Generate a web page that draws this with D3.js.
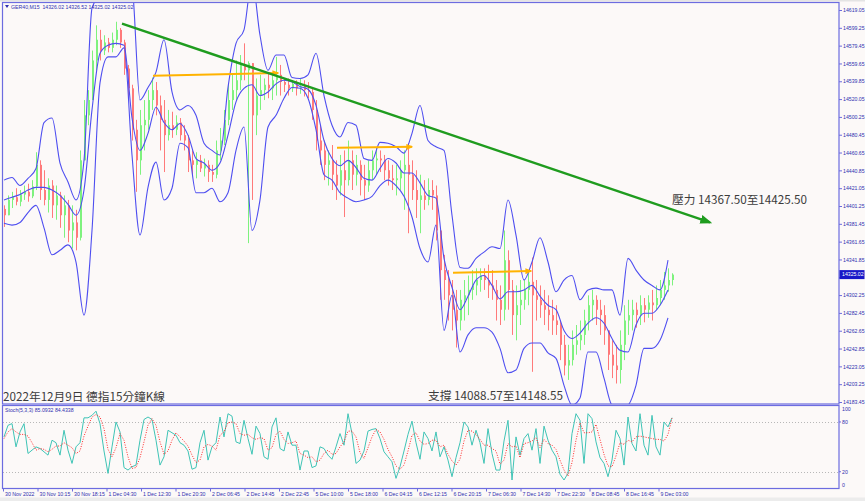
<!DOCTYPE html>
<html><head><meta charset="utf-8">
<script src="https://cdn.jsdelivr.net/npm/d3@7"></script>
<style>
html,body{margin:0;padding:0;background:#fcf9f8;}
svg{display:block;}
</style></head><body>
<svg id="c" width="865" height="501"></svg>
<script>
// ---------------- DATA ----------------
// aggregated candles (about one hour each), prices
const firstOpen = 14398;
const highs = [
14402,14413,14417,14421,14419,14424,14426,14430,14461,14452,
14441,14432,14430,14424,14417,14413,14408,14402,14397,14463,
14519,14530,14574,14602,14597,14591,14588,14594,14606,14599,
14586,14558,14536,14497,14508,14519,14530,14544,14539,14524,
14519,14508,14506,14502,14499,14491,14480,14463,14461,14458,
14454,14452,14447,14474,14488,14508,14536,14547,14563,14569,
14582,14562,14536,14543,14547,14543,14550,14547,14567,14558,
14543,14543,14541,14541,14543,14541,14539,14532,14519,14491,
14474,14463,14469,14452,14458,14463,14474,14463,14458,14452,
14447,14452,14463,14466,14463,14458,14452,14447,14447,14452,
14463,14471,14452,14441,14436,14430,14432,14430,14424,14374,
14347,14330,14319,14308,14308,14319,14324,14330,14332,14332,
14332,14336,14330,14319,14313,14374,14352,14319,14313,14319,
14319,14330,14344,14319,14313,14308,14302,14297,14291,14274,
14258,14247,14263,14269,14274,14286,14302,14308,14302,14297,
14291,14263,14252,14247,14263,14291,14297,14297,14294,14302,
14299,14302,14308,14313,14319,14328,14332,14326.52];
const lows = [
14378,14394,14399,14402,14401,14408,14406,14410,14419,14408,
14402,14394,14388,14386,14377,14366,14361,14354,14352,14363,
14463,14491,14519,14552,14563,14569,14572,14572,14580,14577,
14547,14519,14474,14417,14436,14463,14486,14508,14502,14463,
14439,14474,14477,14480,14474,14463,14439,14436,14432,14439,
14434,14428,14428,14432,14452,14469,14491,14508,14519,14530,
14541,14360,14408,14480,14508,14519,14521,14519,14524,14524,
14528,14524,14528,14524,14526,14523,14521,14497,14463,14447,
14430,14424,14419,14408,14413,14389,14424,14419,14424,14413,
14408,14417,14430,14436,14439,14430,14424,14419,14413,14419,
14397,14371,14408,14388,14371,14397,14402,14397,14363,14297,
14297,14274,14263,14244,14263,14274,14280,14297,14302,14306,
14308,14299,14297,14274,14269,14274,14286,14258,14252,14269,
14286,14291,14217,14274,14277,14269,14263,14258,14258,14230,
14213,14208,14224,14236,14241,14247,14263,14274,14269,14258,
14247,14219,14210,14204,14204,14230,14258,14263,14266,14269,
14272,14277,14274,14286,14291,14297,14306,14313];
const closes = [
14391,14408,14411,14406,14414,14417,14412,14423,14447,14419,
14408,14424,14402,14413,14391,14402,14374,14383,14366,14452,
14502,14519,14563,14586,14574,14583,14577,14586,14597,14583,
14554,14532,14486,14452,14491,14497,14519,14530,14513,14497,
14480,14491,14486,14494,14480,14474,14452,14447,14452,14443,
14447,14439,14436,14463,14474,14497,14519,14530,14541,14558,
14552,14560,14502,14524,14530,14536,14532,14541,14547,14539,
14536,14532,14537,14532,14534,14530,14528,14508,14474,14463,
14447,14452,14436,14424,14441,14430,14452,14436,14447,14430,
14424,14441,14452,14454,14452,14441,14432,14430,14432,14441,
14447,14436,14419,14408,14413,14408,14419,14413,14374,14330,
14319,14302,14286,14274,14297,14302,14308,14313,14319,14324,
14319,14313,14308,14297,14286,14341,14308,14280,14291,14297,
14308,14317,14302,14297,14291,14286,14280,14274,14269,14247,
14224,14230,14247,14252,14258,14274,14291,14297,14286,14280,
14263,14236,14224,14219,14247,14274,14280,14286,14280,14291,
14286,14294,14291,14299,14308,14313,14319,14325.02];

// band values, one per two candles
const bandUpper = [
14430,14433,14424,14432,14443,14494,14499,14449,14428,14408,
14452,14621,14636,14652,14663,14663,14647,14519,14533,14550,
14586,14528,14508,14513,14502,14471,14463,14458,14533,14582,
14597,14652,14591,14552,14569,14569,14544,14543,14547,14571,
14524,14491,14478,14494,14491,14454,14452,14472,14471,14467,
14460,14482,14513,14474,14467,14463,14391,14333,14332,14343,
14350,14356,14354,14408,14369,14319,14339,14366,14339,14306,
14319,14324,14297,14308,14310,14308,14308,14280,14343,14330,
14319,14313,14308,14341];
const bandMiddle = [
14408,14411,14414,14419,14422,14422,14419,14413,14403,14391,
14419,14508,14571,14580,14582,14580,14499,14463,14482,14511,
14494,14486,14493,14480,14454,14449,14441,14449,14480,14517,
14532,14536,14524,14528,14537,14541,14539,14534,14531,14513,
14474,14454,14446,14452,14444,14432,14430,14443,14454,14449,
14438,14438,14427,14413,14410,14343,14311,14286,14301,14319,
14324,14313,14298,14306,14306,14308,14313,14301,14291,14286,
14263,14254,14260,14271,14277,14271,14254,14241,14239,14269,
14282,14282,14291,14308];
const bandLower = [
14382,14380,14383,14394,14402,14377,14347,14352,14358,14339,
14280,14374,14538,14567,14567,14577,14458,14369,14422,14450,
14408,14421,14471,14466,14416,14416,14421,14406,14416,14463,
14489,14374,14408,14489,14502,14521,14533,14532,14521,14486,
14436,14430,14416,14410,14406,14408,14412,14424,14430,14424,
14412,14389,14354,14339,14380,14263,14302,14239,14258,14266,
14266,14261,14243,14216,14219,14243,14249,14249,14238,14232,
14202,14180,14188,14239,14239,14210,14180,14177,14180,14202,
14243,14243,14252,14277];

// stochastic (5,3,3): main and signal, one per candle
const stochMain = [
62,76,78,50,68,78,42,46,50,48,
44,40,58,55,40,70,46,30,50,55,
85,85,88,93,78,45,18,50,80,68,
25,22,26,28,58,83,86,83,58,28,
38,70,67,64,55,52,45,23,25,55,
70,34,50,55,86,62,90,87,56,54,
82,60,41,75,66,38,35,74,85,48,
45,68,52,52,22,45,45,25,27,50,
48,40,35,50,66,52,90,66,30,34,
45,69,71,72,60,44,38,32,12,26,
45,65,81,55,35,68,60,45,68,38,
50,34,14,37,55,80,74,52,70,55,
30,72,42,22,22,57,82,10,62,40,
60,66,46,72,30,75,58,46,38,17,
10,18,66,90,82,30,90,84,56,37,
30,14,34,70,60,28,86,54,45,90,
52,40,88,50,40,80,74,85.0932];
const stochSignal = [
60,68,72,68,65,65,63,55,46,48,
47,44,47,51,51,55,52,49,42,45,
63,75,86,89,86,72,47,38,49,66,
58,38,24,25,37,56,76,84,76,56,
41,45,58,67,62,57,51,40,31,34,
50,53,51,46,64,68,79,80,78,66,
64,65,61,59,61,60,46,49,65,69,
59,54,55,57,42,40,37,38,32,34,
42,46,41,42,50,56,69,69,62,43,
36,49,62,71,68,59,47,38,27,23,
28,45,64,67,57,53,54,58,58,50,
52,41,33,28,35,57,70,69,65,59,
52,52,48,45,29,34,54,50,51,37,
54,55,57,61,49,59,54,52,47,34,
22,15,31,58,79,67,67,68,77,59,
41,27,26,39,55,53,58,56,62,63,
62,61,60,59,59,57,65,84.4338];

const priceTicks = [14619.05,14599.25,14579.45,14559.65,14539.85,14520.05,14500.25,14480.45,
  14460.65,14440.85,14421.05,14401.25,14381.45,14361.65,14341.85,14322.05,14302.25,14282.45,
  14262.65,14242.85,14223.05,14203.25,14183.45];
const lastPrice = 14325.02;
const stochLevels = [100, 80, 20, 0];
const timeLabels = ["30 Nov 2022","30 Nov 10:15","30 Nov 18:15","1 Dec 04:30","1 Dec 12:30",
  "1 Dec 20:30","2 Dec 06:45","2 Dec 14:45","2 Dec 22:45","5 Dec 10:00","5 Dec 18:00",
  "6 Dec 04:15","6 Dec 12:15","6 Dec 20:15","7 Dec 06:30","7 Dec 14:30","7 Dec 22:30",
  "8 Dec 08:45","8 Dec 16:45","9 Dec 03:00"];
const candlesPerLabel = 8.625; // 32 fifteen-minute bars per label

// drawn annotations: [candle index, price]
const trendLine = [[29.5, 14604], [176.5, 14383]];
const levelLines = [
  [[37.25, 14546], [68.5, 14549]],
  [[83.25, 14466], [102, 14467]],
  [[112.25, 14327], [131.75, 14329]]
];
const headerText = "GER40,M15  14326.02 14326.52 14325.02 14325.02";
const stochText = "Stoch(5,3,3) 85.0932 84.4338";
const notes = ["壓力 14367.50至14425.50", "支撐 14088.57至14148.55", "2022年12月9日 德指15分鐘K線"];

// ---------------- LAYOUT ----------------
const W = 865, H = 501;
const P = {left: 2.5, right: 839, top: 2.5, bottom: 404, sTop: 405.5, sBottom: 488.5};
const BORDER = "#6c6ce0", AXTXT = "#3030b0";
const UP = "#7ef27e", DOWN = "#ff7a7a", BAND = "#4e4ef0";
const smallFont = "'Liberation Sans', Arial, sans-serif";
const cjkFont = "'Noto Sans CJK TC','Noto Sans CJK SC',sans-serif";

const svg = d3.select("#c");
svg.append("rect").attr("width", W).attr("height", H).attr("fill", "#fcf9f8");
svg.append("rect").attr("x", 0).attr("y", 0).attr("width", W).attr("height", 1.5).attr("fill", "#e4e4e4");
svg.append("rect").attr("x", 0).attr("y", 497.5).attr("width", W).attr("height", 3.5).attr("fill", "#ececec");

const n = closes.length;
const x = d3.scaleLinear().domain([0, n - 1]).range([4, 672]);
const y = d3.scaleLinear().domain([14183.45, 14619.05]).range([402, 10]);
const ys = d3.scaleLinear().domain([0, 100]).range([488.3, 405.4]);

const defs = svg.append("defs");
defs.append("clipPath").attr("id", "cm").append("rect")
  .attr("x", 3).attr("y", 3).attr("width", P.right - 3).attr("height", P.bottom - 3);
defs.append("clipPath").attr("id", "cs").append("rect")
  .attr("x", 3).attr("y", P.sTop + 0.5).attr("width", P.right - 3).attr("height", P.sBottom - P.sTop - 1);
function marker(id, color, w, h) {
  defs.append("marker").attr("id", id).attr("viewBox", "0 0 10 10")
    .attr("refX", 8).attr("refY", 5).attr("markerWidth", w).attr("markerHeight", h)
    .attr("markerUnits", "userSpaceOnUse").attr("orient", "auto").attr("preserveAspectRatio", "none")
    .append("path").attr("d", "M0,0 L10,5 L0,10 z").attr("fill", color);
}
marker("ag", "#1f9c1f", 12, 9);
marker("ao", "#ffb300", 7, 6);

// ---------- main panel ----------
const gm = svg.append("g").attr("clip-path", "url(#cm)");
const candles = closes.map((c, i) => {
  const o = i === 0 ? firstOpen : closes[i - 1];
  return {i, o, c, h: Math.max(highs[i], o, c), l: Math.min(lows[i], o, c)};
});
gm.selectAll("rect.w").data(candles).join("rect").attr("class", "w")
  .attr("x", d => Math.round(x(d.i))).attr("width", 1)
  .attr("y", d => y(d.h)).attr("height", d => Math.max(1, y(d.l) - y(d.h)))
  .attr("fill", d => d.c >= d.o ? UP : DOWN);
gm.selectAll("rect.b").data(candles).join("rect").attr("class", "b")
  .attr("x", d => Math.round(x(d.i))).attr("width", 2)
  .attr("y", d => y(Math.max(d.o, d.c))).attr("height", d => Math.max(1, Math.abs(y(d.o) - y(d.c))))
  .attr("fill", d => d.c >= d.o ? UP : DOWN);

const bandLine = d3.line().x((d, j) => x(j * 2)).y(d => y(d)).curve(d3.curveMonotoneX);
[bandUpper, bandMiddle, bandLower].forEach(arr => {
  gm.append("path").attr("d", bandLine(arr)).attr("fill", "none")
    .attr("stroke", BAND).attr("stroke-width", 1.1);
});

const segLine = d3.line().x(d => x(d[0])).y(d => y(d[1]));
levelLines.forEach(seg => {
  gm.append("path").attr("d", segLine(seg)).attr("stroke", "#ffb300").attr("stroke-width", 2)
    .attr("fill", "none").attr("marker-end", "url(#ao)");
});
gm.append("path").attr("d", segLine(trendLine)).attr("stroke", "#1f9c1f").attr("stroke-width", 2.4)
  .attr("fill", "none").attr("marker-end", "url(#ag)");

// notes
const notePos = [[672, 204], [428, 400], [3, 401]];
notes.forEach((t, k) => {
  svg.append("text").attr("x", notePos[k][0]).attr("y", notePos[k][1]).text(t)
    .attr("font-family", cjkFont).attr("font-size", 11.7).attr("fill", "#3c3c3c");
});

// header
svg.append("path").attr("d", "M5,5 L9,5 L7,8 z").attr("fill", AXTXT);
svg.append("text").attr("x", 11).attr("y", 9).text(headerText)
  .attr("font-family", smallFont).attr("font-size", 5.2).attr("fill", AXTXT)
  .style("white-space", "pre");

// ---------- stochastic ----------
const gs = svg.append("g").attr("clip-path", "url(#cs)");
[80, 20].forEach(v => {
  gs.append("line").attr("x1", 3).attr("x2", P.right).attr("y1", Math.round(ys(v)) + 0.5).attr("y2", Math.round(ys(v)) + 0.5)
    .attr("stroke", "#b8b8b8").attr("stroke-dasharray", "1,2");
});
const sLine = d3.line().x((d, i) => x(i)).y(d => ys(d));
gs.append("path").attr("d", sLine(stochMain)).attr("fill", "none").attr("stroke", "#3fc4b6").attr("stroke-width", 1);
gs.append("path").attr("d", sLine(stochSignal)).attr("fill", "none").attr("stroke", "#ff2a2a")
  .attr("stroke-width", 1).attr("stroke-dasharray", "1,1.5");
svg.append("text").attr("x", 5).attr("y", 412).text(stochText)
  .attr("font-family", smallFont).attr("font-size", 5.2).attr("fill", AXTXT);

// ---------- frames ----------
svg.append("rect").attr("x", P.left).attr("y", P.top).attr("width", P.right - P.left).attr("height", P.bottom - P.top)
  .attr("fill", "none").attr("stroke", BORDER).attr("stroke-width", 1.2);
svg.append("rect").attr("x", P.left).attr("y", P.sTop).attr("width", P.right - P.left).attr("height", P.sBottom - P.sTop)
  .attr("fill", "none").attr("stroke", BORDER).attr("stroke-width", 1.2);

// ---------- price axis ----------
const lpY = y(lastPrice);
const ya = svg.append("g").attr("transform", `translate(${P.right},0)`)
  .call(d3.axisRight(y).tickValues(priceTicks).tickSize(3).tickPadding(1)
    .tickFormat(d => Math.abs(y(d) - lpY) < 9 ? "" : d.toFixed(2)));
ya.select(".domain").remove();
ya.selectAll("line").attr("stroke", BORDER);
ya.selectAll("text").attr("font-family", smallFont).attr("font-size", 5.2).attr("fill", AXTXT);

svg.append("rect").attr("x", P.right + 0.5).attr("y", lpY - 4.5).attr("width", 25).attr("height", 9).attr("fill", "#1818c8");
svg.append("text").attr("x", P.right + 3).attr("y", lpY).attr("dy", "0.35em").text(lastPrice.toFixed(2))
  .attr("font-family", smallFont).attr("font-size", 5.2).attr("fill", "#ffffff");

// stochastic axis
const sa = svg.append("g").attr("transform", `translate(${P.right},0)`);
stochLevels.forEach(v => {
  const cy = Math.min(485, Math.max(409, ys(v)));
  sa.append("text").attr("x", 3).attr("y", cy).attr("dy", "0.35em").text(v)
    .attr("font-family", smallFont).attr("font-size", 5.2).attr("fill", AXTXT);
  if (v === 80 || v === 20) sa.append("line").attr("x1", 0).attr("x2", 2).attr("y1", ys(v)).attr("y2", ys(v)).attr("stroke", BORDER);
});

// ---------- time axis ----------
const t = d3.scaleLinear().domain([0, 1]).range([x(-0.25), x(candlesPerLabel - 0.25)]);
const ta = svg.append("g").attr("transform", `translate(0,${P.sBottom})`)
  .call(d3.axisBottom(t).tickValues(d3.range(timeLabels.length)).tickSize(3).tickPadding(1).tickFormat(i => timeLabels[i]));
ta.select(".domain").remove();
ta.selectAll("line").attr("stroke", BORDER);
ta.selectAll("text").attr("text-anchor", "start").attr("dx", 1.5)
  .attr("font-family", smallFont).attr("font-size", 5.2).attr("fill", AXTXT);
</script>
</body></html>
